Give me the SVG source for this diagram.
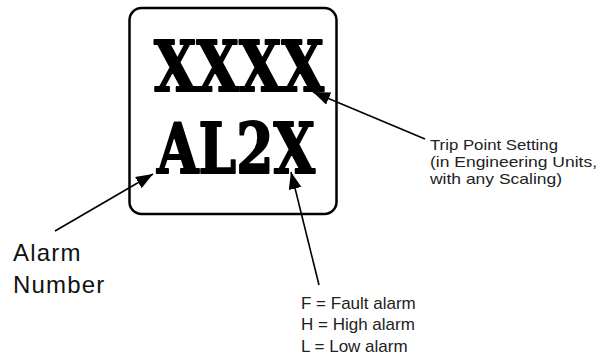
<svg xmlns="http://www.w3.org/2000/svg" width="604" height="358" viewBox="0 0 604 358">
<style>
.big{font-family:"DejaVu Serif",serif;font-weight:bold;font-size:70px;fill:#000;stroke:#000;stroke-width:2;stroke-linejoin:round}
.lbl{font-family:"Liberation Sans",Arial,sans-serif;font-size:17px;fill:#222}
.trip{font-family:"Liberation Sans",Arial,sans-serif;font-size:15px;fill:#222}
.num{font-family:"Liberation Sans",Arial,sans-serif;font-size:24px;letter-spacing:1.2px;fill:#111}
.conn{stroke:#000;stroke-width:1.6;fill:none;marker-end:url(#ah)}
</style>
<defs>
<marker id="ah" markerUnits="userSpaceOnUse" markerWidth="18" markerHeight="14" refX="17" refY="6.5" orient="auto">
<path d="M0,0 L17,6.5 L0,13 z" fill="#000"/>
</marker>
</defs>
<rect width="604" height="358" fill="#fff"/>
<g id="display">
<rect x="129.5" y="8" width="207" height="206" rx="12" ry="12" fill="#fff" stroke="#000" stroke-width="2.5"/>
<text class="big" x="154" y="91" textLength="170" lengthAdjust="spacingAndGlyphs">XXXX</text>
<text class="big" x="157" y="173" textLength="158" lengthAdjust="spacingAndGlyphs">AL2X</text>
</g>
<g id="trip-label">
<text class="trip" x="430" y="150" textLength="128" lengthAdjust="spacingAndGlyphs">Trip Point Setting</text>
<text class="trip" x="430" y="167" textLength="167" lengthAdjust="spacingAndGlyphs">(in Engineering Units,</text>
<text class="trip" x="430" y="184" textLength="132" lengthAdjust="spacingAndGlyphs">with any Scaling)</text>
</g>
<g id="alarm-number-label">
<text class="num" x="13" y="261">Alarm</text>
<text class="num" x="13" y="293">Number</text>
</g>
<g id="type-label">
<text class="lbl" x="301" y="309">F = Fault alarm</text>
<text class="lbl" x="301" y="330">H = High alarm</text>
<text class="lbl" x="301" y="352">L = Low alarm</text>
</g>
<g id="connectors">
<path class="conn" d="M425,139 L313,92"/>
<path class="conn" d="M55,231 L153,174"/>
<path class="conn" d="M319,285 L291,172"/>
</g>
</svg>
